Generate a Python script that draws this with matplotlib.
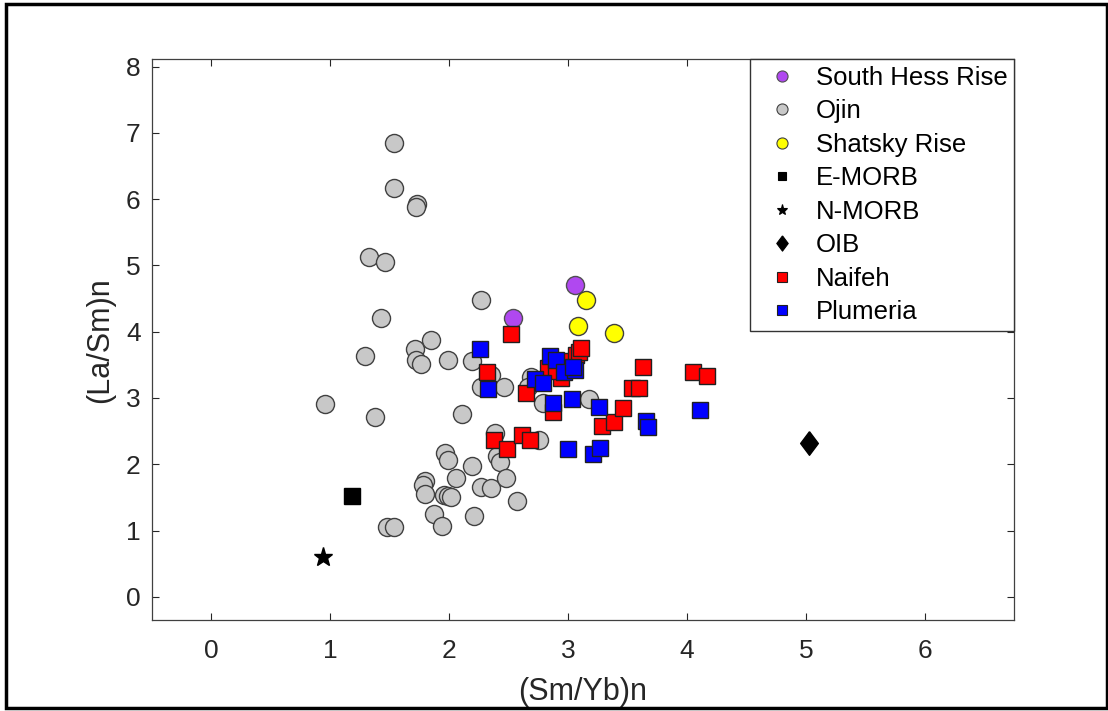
import matplotlib
matplotlib.use("Agg")
import matplotlib.pyplot as plt
from matplotlib.lines import Line2D
from matplotlib.patches import Rectangle

plt.rcParams['font.family'] = ['Liberation Sans', 'DejaVu Sans']

# (Sm/Yb)n, (La/Sm)n per group
shr_x = [2.54, 3.06]
shr_y = [4.21, 4.71]

ojin_x = [1.54, 1.54, 1.73, 1.72, 1.33, 1.46, 1.43, 1.85, 1.71, 1.72, 1.76, 1.99,
          2.19, 2.27, 1.29, 2.27, 0.96, 1.38, 2.11, 2.35, 2.46, 2.69, 2.66, 2.79,
          3.18, 2.39, 2.40, 2.43, 2.76, 1.97, 1.99, 2.19, 2.06, 1.80, 1.78, 1.80,
          1.96, 1.99, 2.02, 2.27, 2.35, 2.48, 2.57, 1.87, 1.94, 2.21, 1.48, 1.54]
ojin_y = [6.85, 6.17, 5.93, 5.88, 5.12, 5.05, 4.21, 3.87, 3.74, 3.57, 3.52, 3.57,
          3.56, 4.48, 3.63, 3.16, 2.91, 2.71, 2.76, 3.35, 3.16, 3.32, 3.16, 2.92,
          2.99, 2.47, 2.12, 2.04, 2.37, 2.17, 2.07, 1.98, 1.79, 1.74, 1.69, 1.55,
          1.54, 1.52, 1.51, 1.65, 1.64, 1.79, 1.45, 1.25, 1.07, 1.22, 1.05, 1.05]

shatsky_x = [3.15, 3.08, 3.39]
shatsky_y = [4.48, 4.09, 3.98]

emorb_x, emorb_y = [1.18], [1.52]
nmorb_x, nmorb_y = [0.94], [0.60]
oib_x, oib_y = [5.03], [2.32]

naifeh_x = [2.52, 2.32, 2.65, 2.83, 2.94, 2.98, 3.07, 3.09, 3.11, 2.87, 2.38,
            2.49, 2.61, 2.68, 3.29, 3.39, 3.46, 3.54, 3.60, 3.63, 4.05, 4.17, 2.90]
naifeh_y = [3.97, 3.39, 3.07, 3.45, 3.30, 3.56, 3.65, 3.70, 3.75, 2.79, 2.37,
            2.23, 2.44, 2.37, 2.57, 2.63, 2.85, 3.15, 3.15, 3.46, 3.39, 3.33, 3.40]

plumeria_x = [2.26, 2.33, 2.72, 2.79, 2.85, 2.90, 2.97, 3.06, 3.04, 2.87, 3.03,
              3.26, 3.00, 3.21, 3.27, 3.66, 3.67, 4.11]
plumeria_y = [3.74, 3.14, 3.29, 3.22, 3.63, 3.58, 3.39, 3.42, 3.46, 2.93, 2.98,
              2.87, 2.23, 2.16, 2.24, 2.65, 2.56, 2.82]

fig = plt.figure(figsize=(11.08, 7.11), dpi=100)
ax = fig.add_axes([0.1369, 0.128, 0.9152 - 0.1369, 0.9166 - 0.128])

diamond = [(0, 1), (0.75, 0), (0, -1), (-0.75, 0), (0, 1)]

groups = [
    # x, y, marker, size, face, edge, label, legend size
    (shr_x, shr_y, 'o', 13, '#B048F0', '#505050', 'South Hess Rise', 8),
    (ojin_x, ojin_y, 'o', 13, '#C8C8C8', '#404040', 'Ojin', 8),
    (shatsky_x, shatsky_y, 'o', 13, '#FFFF00', '#404040', 'Shatsky Rise', 8),
    (emorb_x, emorb_y, 's', 11, 'black', 'black', 'E-MORB', 6),
    (nmorb_x, nmorb_y, '*', 14, 'black', 'black', 'N-MORB', 8),
    (oib_x, oib_y, diamond, 17, 'black', 'black', 'OIB', 11),
    (naifeh_x, naifeh_y, 's', 11, '#FF0000', '#202020', 'Naifeh', 6.5),
    (plumeria_x, plumeria_y, 's', 11, '#0000FF', '#202020', 'Plumeria', 6.5),
]

handles = []
for x, y, m, ms, fc, ec, lab, lms in groups:
    ax.plot(x, y, marker=m, linestyle='none', markersize=ms,
            markerfacecolor=fc, markeredgecolor=ec, markeredgewidth=1.0)
    handles.append(Line2D([], [], marker=m, linestyle='none', markersize=lms,
                          markerfacecolor=fc, markeredgecolor=ec,
                          markeredgewidth=0.8, label=lab))

ax.set_xlim(-0.5, 6.75)
ax.set_ylim(-0.35, 8.11)
ax.set_xticks(range(0, 7))
ax.set_yticks(range(0, 9))
ax.tick_params(direction='in', length=5, width=0.8, top=True, right=True,
               labelsize=19, colors='#262626')
ax.tick_params(axis='x', pad=14)
ax.tick_params(axis='y', pad=8)
for s in ax.spines.values():
    s.set_color('#404040')
    s.set_linewidth(0.9)

ax.set_xlabel('(Sm/Yb)n', fontsize=22, color='#262626', labelpad=10)
ax.set_ylabel('(La/Sm)n', fontsize=22, color='#262626', labelpad=8)

leg = ax.legend(handles=handles, loc='upper right', borderaxespad=0, fontsize=18.5,
                fancybox=False, framealpha=1, edgecolor='#333333',
                handletextpad=0.3, labelspacing=0.37, borderpad=0.25,
                handlelength=2.0)
leg.get_frame().set_linewidth(1.0)

# black frame round the whole figure
fig.patches.append(Rectangle((0.0055, 0.004), 0.9935, 0.99, transform=fig.transFigure,
                             fill=False, edgecolor='black', linewidth=2.5))

fig.savefig('out.png', dpi=100)
